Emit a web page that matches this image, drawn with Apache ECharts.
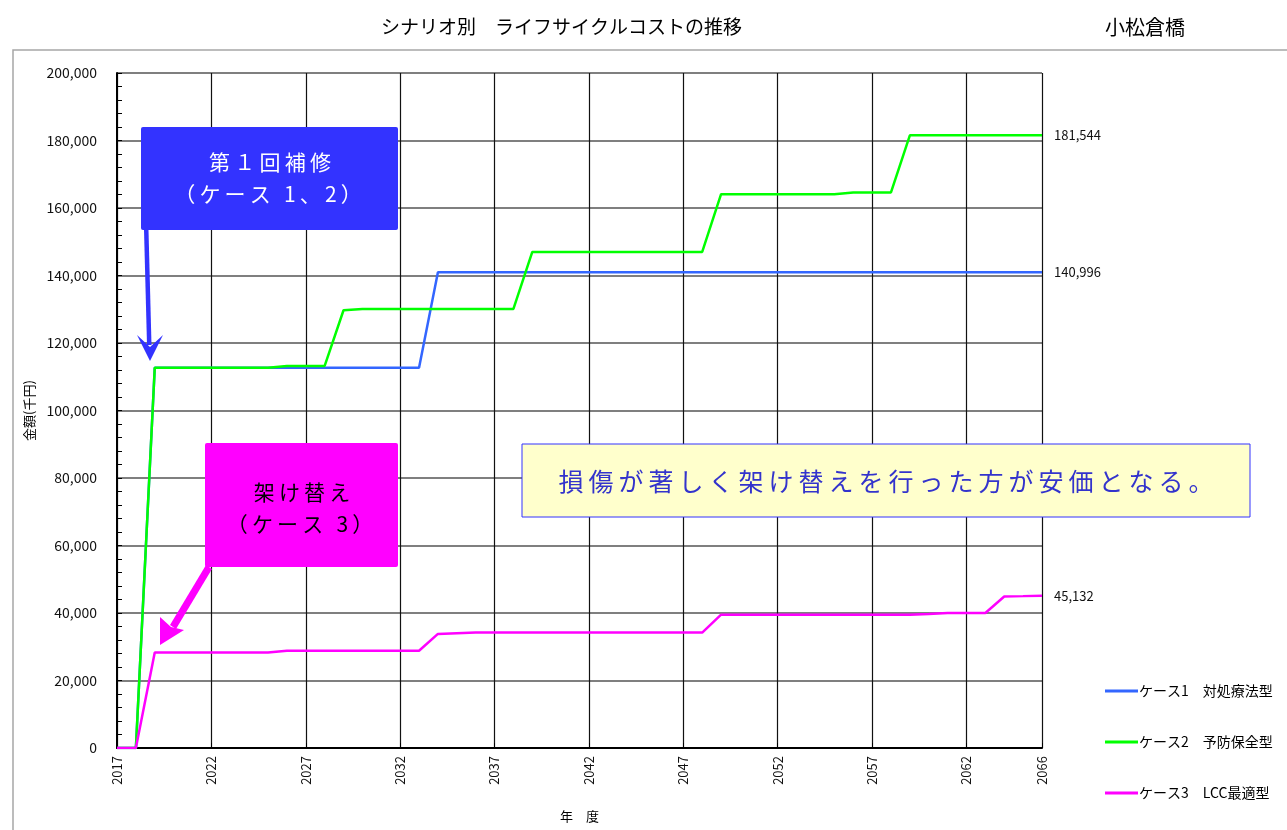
<!DOCTYPE html>
<html>
<head>
<meta charset="utf-8">
<script src="https://cdn.jsdelivr.net/npm/echarts@6/dist/echarts.min.js"></script>
<style>
html,body{margin:0;padding:0;background:#fff;}
#chart{width:1287px;height:830px;}
</style>
</head>
<body>
<div id="chart"></div>
<script>
// ---- data ----
const years = [];
for (let y = 2017; y <= 2066; y++) years.push(String(y));

const seriesNames = ['ケース1　対処療法型', 'ケース2　予防保全型', 'ケース3　LCC最適型'];

// ケース1 対処療法型 (千円)
const case1 = [
  0, 0, 112700, 112700, 112700, 112700, 112700, 112700, 112700, 112700,
  112700, 112700, 112700, 112700, 112700, 112700, 112700, 140996, 140996, 140996,
  140996, 140996, 140996, 140996, 140996, 140996, 140996, 140996, 140996, 140996,
  140996, 140996, 140996, 140996, 140996, 140996, 140996, 140996, 140996, 140996,
  140996, 140996, 140996, 140996, 140996, 140996, 140996, 140996, 140996, 140996
];
// ケース2 予防保全型
const case2 = [
  0, 0, 112700, 112700, 112700, 112700, 112700, 112700, 112700, 113200,
  113200, 113200, 129700, 130100, 130100, 130100, 130100, 130100, 130100, 130100,
  130100, 130100, 147000, 147000, 147000, 147000, 147000, 147000, 147000, 147000,
  147000, 147000, 164100, 164100, 164100, 164100, 164100, 164100, 164100, 164600,
  164600, 164600, 181544, 181544, 181544, 181544, 181544, 181544, 181544, 181544
];
// ケース3 LCC最適型
const case3 = [
  0, 0, 28300, 28300, 28300, 28300, 28300, 28300, 28300, 28800,
  28800, 28800, 28800, 28800, 28800, 28800, 28800, 33800, 34000, 34200,
  34200, 34200, 34200, 34200, 34200, 34200, 34200, 34200, 34200, 34200,
  34200, 34200, 39500, 39500, 39500, 39500, 39500, 39500, 39500, 39500,
  39500, 39500, 39500, 39700, 40000, 40000, 40000, 44900, 45000, 45132
];

const yTicks = { min: 0, max: 200000, interval: 20000 };

// ---- chart ----
const FONT = '"Noto Sans CJK JP", "Noto Sans", sans-serif';
const addCommas = v => String(v).replace(/\B(?=(\d{3})+(?!\d))/g, ',');
const lastIdx = years.length - 1;
const isLabelIdx = i => i % 5 === 0 || i === lastIdx;
const TS = '\u2009';
const spaced = s => s.split('').join(TS);

const chart = echarts.init(document.getElementById('chart'), null, { renderer: 'canvas' });

function mkSeries(name, data, color) {
  return {
    name: name,
    type: 'line',
    data: data,
    symbol: 'none',
    lineStyle: { color: color, width: 2.5 },
    itemStyle: { color: color },
    endLabel: {
      show: true,
      distance: 12,
      formatter: p => addCommas(p.value),
      fontFamily: FONT,
      fontSize: 13,
      color: '#111'
    },
    emphasis: { disabled: true },
    animation: false
  };
}

chart.setOption({
  backgroundColor: '#fff',
  animation: false,
  textStyle: { fontFamily: FONT },
  title: [
    { text: 'シナリオ別　ライフサイクルコストの推移', left: 376, top: 12,
      textStyle: { fontSize: 19, fontWeight: 'normal', color: '#000', fontFamily: FONT } },
    { text: '小松倉橋', left: 1100, top: 12,
      textStyle: { fontSize: 20, fontWeight: 'normal', color: '#000', fontFamily: FONT } }
  ],
  grid: { left: 117, right: 245, top: 73, bottom: 82, containLabel: false },
  legend: {
    orient: 'vertical',
    left: 1100,
    top: 679,
    itemGap: 37,
    itemWidth: 33,
    itemHeight: 3,
    icon: 'rect',
    data: seriesNames,
    textStyle: { fontFamily: FONT, fontSize: 14, color: '#000', padding: [0, 0, 0, -4] },
    selectedMode: false
  },
  xAxis: {
    type: 'category',
    data: years,
    boundaryGap: false,
    name: '年　度',
    nameLocation: 'middle',
    nameGap: 62,
    nameTextStyle: { fontSize: 13, color: '#000', fontFamily: FONT },
    axisLine: { lineStyle: { color: '#000', width: 2 } },
    axisTick: { show: true, inside: true, length: 5, interval: (i) => isLabelIdx(i), lineStyle: { color: '#000' } },
    axisLabel: { interval: (i) => isLabelIdx(i), rotate: 90, fontSize: 13, color: '#111', margin: 8, fontFamily: FONT },
    splitLine: { show: true, interval: (i) => isLabelIdx(i), lineStyle: { color: '#111', width: 1.2 } }
  },
  yAxis: {
    type: 'value',
    min: yTicks.min,
    max: yTicks.max,
    interval: yTicks.interval,
    name: '金額(千円)',
    nameLocation: 'middle',
    nameGap: 80,
    nameRotate: 90,
    nameTextStyle: { fontSize: 13, color: '#000', fontFamily: FONT },
    axisLine: { show: true, lineStyle: { color: '#000', width: 2 } },
    axisTick: { show: true, inside: true, length: 5, lineStyle: { color: '#000' } },
    minorTick: { show: true, splitNumber: 5, length: 5, lineStyle: { color: '#000' } },
    axisLabel: { fontSize: 14, color: '#111', margin: 20, formatter: v => addCommas(v), fontFamily: FONT },
    splitLine: { show: true, lineStyle: { color: '#555', width: 1.5 } }
  },
  series: [
    mkSeries(seriesNames[0], case1, '#3366FF'),
    mkSeries(seriesNames[1], case2, '#00FF00'),
    mkSeries(seriesNames[2], case3, '#FF00FF')
  ],
  graphic: [
    // outer chart-area frame
    { type: 'rect', shape: { x: 13, y: 50, width: 1300, height: 820 }, silent: true, z: -10,
      style: { fill: null, stroke: '#A6A6A6', lineWidth: 1.5 } },
    // blue annotation box
    { type: 'rect', shape: { x: 141, y: 127, width: 257, height: 103, r: 2 }, z: 100,
      style: { fill: '#3333FF' } },
    { type: 'text', x: 270, y: 162, z: 101,
      style: { text: spaced('第１回補修'), fill: '#fff', fontSize: 21, fontFamily: FONT, align: 'center', verticalAlign: 'middle' } },
    { type: 'text', x: 268, y: 194, z: 101,
      style: { text: spaced('（ケース 1、2）'), fill: '#fff', fontSize: 21, fontFamily: FONT, align: 'center', verticalAlign: 'middle' } },
    // blue arrow
    { type: 'polygon', z: 100,
      shape: { points: [[144, 230], [148.5, 230], [151.5, 345], [147, 345]] },
      style: { fill: '#3333FF' } },
    { type: 'polygon', z: 100,
      shape: { points: [[137, 335], [150, 347], [163, 335], [150, 361]] },
      style: { fill: '#3333FF' } },
    // magenta annotation box
    { type: 'rect', shape: { x: 205, y: 443, width: 193, height: 124, r: 2 }, z: 100,
      style: { fill: '#FF00FF' } },
    { type: 'text', x: 302, y: 492, z: 101,
      style: { text: spaced('架け替え'), fill: '#000', fontSize: 21, fontFamily: FONT, align: 'center', verticalAlign: 'middle' } },
    { type: 'text', x: 300, y: 524, z: 101,
      style: { text: spaced('（ケース 3）'), fill: '#000', fontSize: 21, fontFamily: FONT, align: 'center', verticalAlign: 'middle' } },
    // magenta arrow
    { type: 'polygon', z: 100,
      shape: { points: [[206, 565], [212, 569], [176, 629], [170, 625]] },
      style: { fill: '#FF00FF' } },
    { type: 'polygon', z: 100,
      shape: { points: [[160, 617], [171, 627], [184, 630], [160, 645]] },
      style: { fill: '#FF00FF' } },
    // yellow note box
    { type: 'rect', shape: { x: 522, y: 444, width: 728, height: 73 }, z: 100,
      style: { fill: '#FFFFCC', stroke: '#3333FF', lineWidth: 1 } },
    { type: 'text', x: 886, y: 481, z: 101,
      style: { text: spaced('損傷が著しく架け替えを行った方が安価となる。'), fill: '#3333CC', fontSize: 25, fontFamily: FONT, align: 'center', verticalAlign: 'middle' } }
  ]
});
</script>
</body>
</html>
